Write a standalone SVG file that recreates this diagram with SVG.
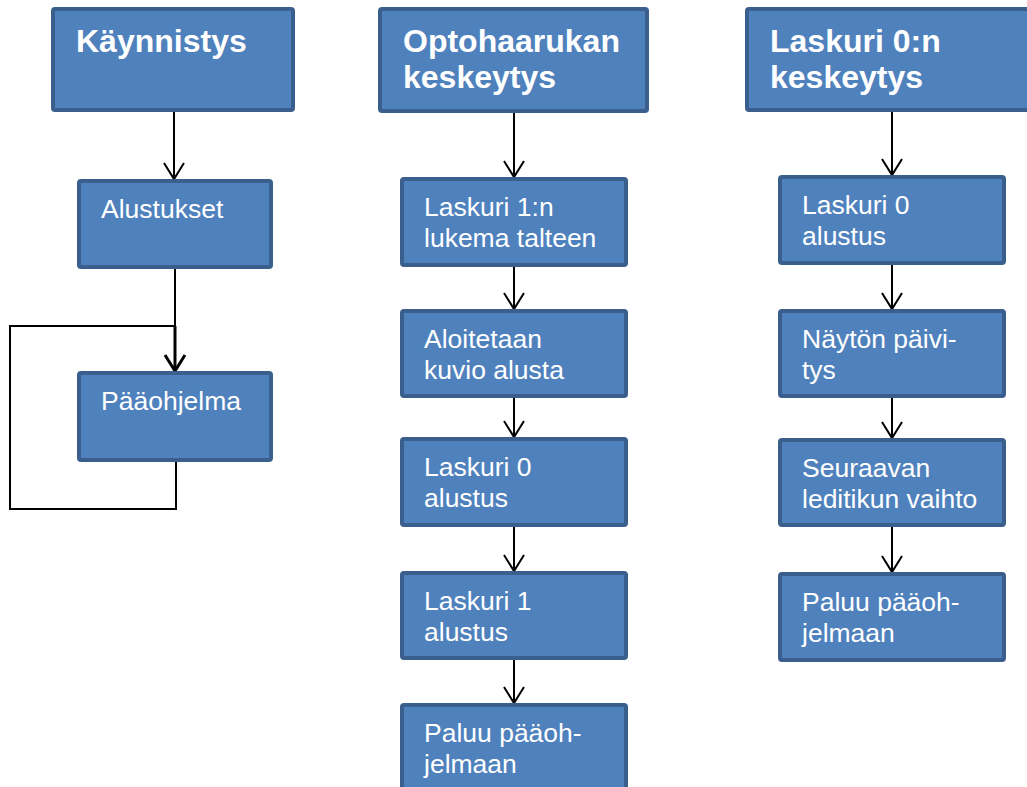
<svg xmlns="http://www.w3.org/2000/svg" width="1027" height="787" viewBox="0 0 1027 787">
  <style>
    .box { fill: #4F81BD; stroke: #3A5F8D; stroke-width: 4; }
    .title { font-family: "Liberation Sans", Arial, sans-serif; font-size: 32px; font-weight: bold; fill: #FFFFFF; }
    .body { font-family: "Liberation Sans", Arial, sans-serif; font-size: 26.5px; fill: #FFFFFF; }
    .link { fill: none; stroke: #000000; stroke-width: 2; }
    .thick { stroke-width: 3; }
  </style>
  <defs>
    <marker id="arrow" markerUnits="userSpaceOnUse" markerWidth="20" markerHeight="24" viewBox="-18 -12 20 24" refX="0" refY="0" orient="auto">
      <path d="M-16,-10 L0,0 L-16,10" fill="none" stroke="#000000" stroke-width="2"/>
    </marker>
    <marker id="arrowBold" markerUnits="userSpaceOnUse" markerWidth="20" markerHeight="24" viewBox="-18 -12 20 24" refX="0" refY="0" orient="auto">
      <path d="M-16,-10 L0,0 L-16,10" fill="none" stroke="#000000" stroke-width="3"/>
    </marker>
  </defs>
  <rect width="1027" height="787" fill="#FFFFFF"/>

  <!-- connectors -->
  <g id="connectors">
    <!-- startup column -->
    <path class="link" d="M174,112 L174,179" marker-end="url(#arrow)"/>
    <path class="link" d="M175,269 L175,326"/>
    <path class="link thick" d="M175,326 L175,371" marker-end="url(#arrowBold)"/>
    <path class="link" d="M176,462 L176,509 L10,509 L10,326 L175,326"/>
    <!-- opto interrupt column -->
    <path class="link" d="M514,113 L514,177" marker-end="url(#arrow)"/>
    <path class="link" d="M514,267 L514,309" marker-end="url(#arrow)"/>
    <path class="link" d="M514,398 L514,437" marker-end="url(#arrow)"/>
    <path class="link" d="M514,527 L514,571" marker-end="url(#arrow)"/>
    <path class="link" d="M514,660 L514,703" marker-end="url(#arrow)"/>
    <!-- counter 0 interrupt column -->
    <path class="link" d="M892,112 L892,175" marker-end="url(#arrow)"/>
    <path class="link" d="M892,265 L892,309" marker-end="url(#arrow)"/>
    <path class="link" d="M892,398 L892,438" marker-end="url(#arrow)"/>
    <path class="link" d="M892,527 L892,572" marker-end="url(#arrow)"/>
  </g>

  <!-- startup column -->
  <g id="kaynnistys">
    <rect class="box" x="53" y="9" width="240" height="101" rx="2"/>
    <text class="title" x="76" y="52">Käynnistys</text>
  </g>
  <g id="alustukset">
    <rect class="box" x="79" y="181" width="192" height="86" rx="2"/>
    <text class="body" x="101" y="218">Alustukset</text>
  </g>
  <g id="paaohjelma">
    <rect class="box" x="79" y="373" width="192" height="87" rx="2"/>
    <text class="body" x="101" y="410">Pääohjelma</text>
  </g>

  <!-- opto interrupt column -->
  <g id="opto-keskeytys">
    <rect class="box" x="380" y="9" width="267" height="102" rx="2"/>
    <text class="title" x="403" y="52">Optohaarukan</text>
    <text class="title" x="403" y="88">keskeytys</text>
  </g>
  <g id="opto-lukema">
    <rect class="box" x="402" y="179" width="224" height="86" rx="2"/>
    <text class="body" x="424" y="216">Laskuri 1:n</text>
    <text class="body" x="424" y="247">lukema talteen</text>
  </g>
  <g id="opto-kuvio">
    <rect class="box" x="402" y="311" width="224" height="85" rx="2"/>
    <text class="body" x="424" y="348">Aloitetaan</text>
    <text class="body" x="424" y="379">kuvio alusta</text>
  </g>
  <g id="opto-laskuri0">
    <rect class="box" x="402" y="439" width="224" height="86" rx="2"/>
    <text class="body" x="424" y="476">Laskuri 0</text>
    <text class="body" x="424" y="507">alustus</text>
  </g>
  <g id="opto-laskuri1">
    <rect class="box" x="402" y="573" width="224" height="85" rx="2"/>
    <text class="body" x="424" y="610">Laskuri 1</text>
    <text class="body" x="424" y="641">alustus</text>
  </g>
  <g id="opto-paluu">
    <rect class="box" x="402" y="705" width="224" height="86" rx="2"/>
    <text class="body" x="424" y="742">Paluu pääoh-</text>
    <text class="body" x="424" y="773">jelmaan</text>
  </g>

  <!-- counter 0 interrupt column -->
  <g id="l0-keskeytys">
    <rect class="box" x="747" y="9" width="292" height="101" rx="2"/>
    <text class="title" x="770" y="52">Laskuri 0:n</text>
    <text class="title" x="770" y="88">keskeytys</text>
  </g>
  <g id="l0-alustus">
    <rect class="box" x="780" y="177" width="224" height="86" rx="2"/>
    <text class="body" x="802" y="214">Laskuri 0</text>
    <text class="body" x="802" y="245">alustus</text>
  </g>
  <g id="l0-naytto">
    <rect class="box" x="780" y="311" width="224" height="85" rx="2"/>
    <text class="body" x="802" y="348">Näytön päivi-</text>
    <text class="body" x="802" y="379">tys</text>
  </g>
  <g id="l0-ledi">
    <rect class="box" x="780" y="440" width="224" height="85" rx="2"/>
    <text class="body" x="802" y="477">Seuraavan</text>
    <text class="body" x="802" y="508">leditikun vaihto</text>
  </g>
  <g id="l0-paluu">
    <rect class="box" x="780" y="574" width="224" height="86" rx="2"/>
    <text class="body" x="802" y="611">Paluu pääoh-</text>
    <text class="body" x="802" y="642">jelmaan</text>
  </g>
</svg>
